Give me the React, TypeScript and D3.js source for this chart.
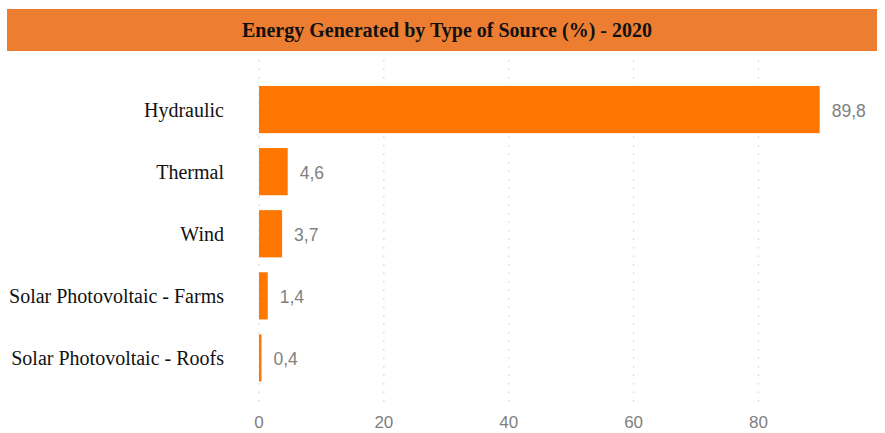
import React from "react";
import * as d3 from "d3";

const categories = [
  "Hydraulic",
  "Thermal",
  "Wind",
  "Solar Photovoltaic - Farms",
  "Solar Photovoltaic - Roofs",
];
const values = [89.8, 4.6, 3.7, 1.4, 0.4];
const valueLabels = ["89,8", "4,6", "3,7", "1,4", "0,4"];
const tickValues = [0, 20, 40, 60, 80];
const title = "Energy Generated by Type of Source (%) - 2020";

const SERIF = "'Liberation Serif', 'DejaVu Serif', serif";
const SANS = "'Liberation Sans', Arial, sans-serif";

export default function App() {
  const W = 885;
  const H = 433;
  const x = d3.scaleLinear().domain([0, 80]).range([259, 758.5]);
  const y = d3
    .scaleBand<string>()
    .domain(categories)
    .range([78.5, 389])
    .paddingInner(0.24)
    .paddingOuter(0.12);

  return (
    <svg
      width={W}
      height={H}
      style={{ position: "absolute", left: 0, top: 0, background: "#fff" }}
    >
      <rect x={7} y={9} width={870} height={42} fill="#ED7D31" />
      <text
        x={447}
        y={30}
        textAnchor="middle"
        dominantBaseline="central"
        style={{ fontFamily: SERIF }}
        fontWeight="bold"
        fontSize={20}
        fill="#111"
      >
        {title}
      </text>

      {tickValues.map((t) => (
        <g key={t}>
          <line
            x1={x(t)}
            x2={x(t)}
            y1={60}
            y2={403}
            stroke="#c8c8c8"
            strokeWidth={1}
            strokeDasharray="1.5,7"
          />
          <text
            x={x(t)}
            y={422}
            textAnchor="middle"
            dominantBaseline="central"
            style={{ fontFamily: SANS }}
            fontSize={17}
            fill="#808080"
          >
            {t}
          </text>
        </g>
      ))}

      {categories.map((c, i) => (
        <g key={c}>
          <rect
            x={x(0)}
            y={y(c)!}
            width={x(values[i]) - x(0)}
            height={y.bandwidth()}
            fill="#FF7700"
          />
          <text
            x={224}
            y={y(c)! + y.bandwidth() / 2}
            textAnchor="end"
            dominantBaseline="central"
            style={{ fontFamily: SERIF }}
            fontSize={20}
            fill="#111"
          >
            {c}
          </text>
          <text
            x={x(values[i]) + 12}
            y={y(c)! + y.bandwidth() / 2 + 1.5}
            dominantBaseline="central"
            style={{ fontFamily: SANS }}
            fontSize={17.5}
            fill="#808080"
          >
            {valueLabels[i]}
          </text>
        </g>
      ))}
    </svg>
  );
}
